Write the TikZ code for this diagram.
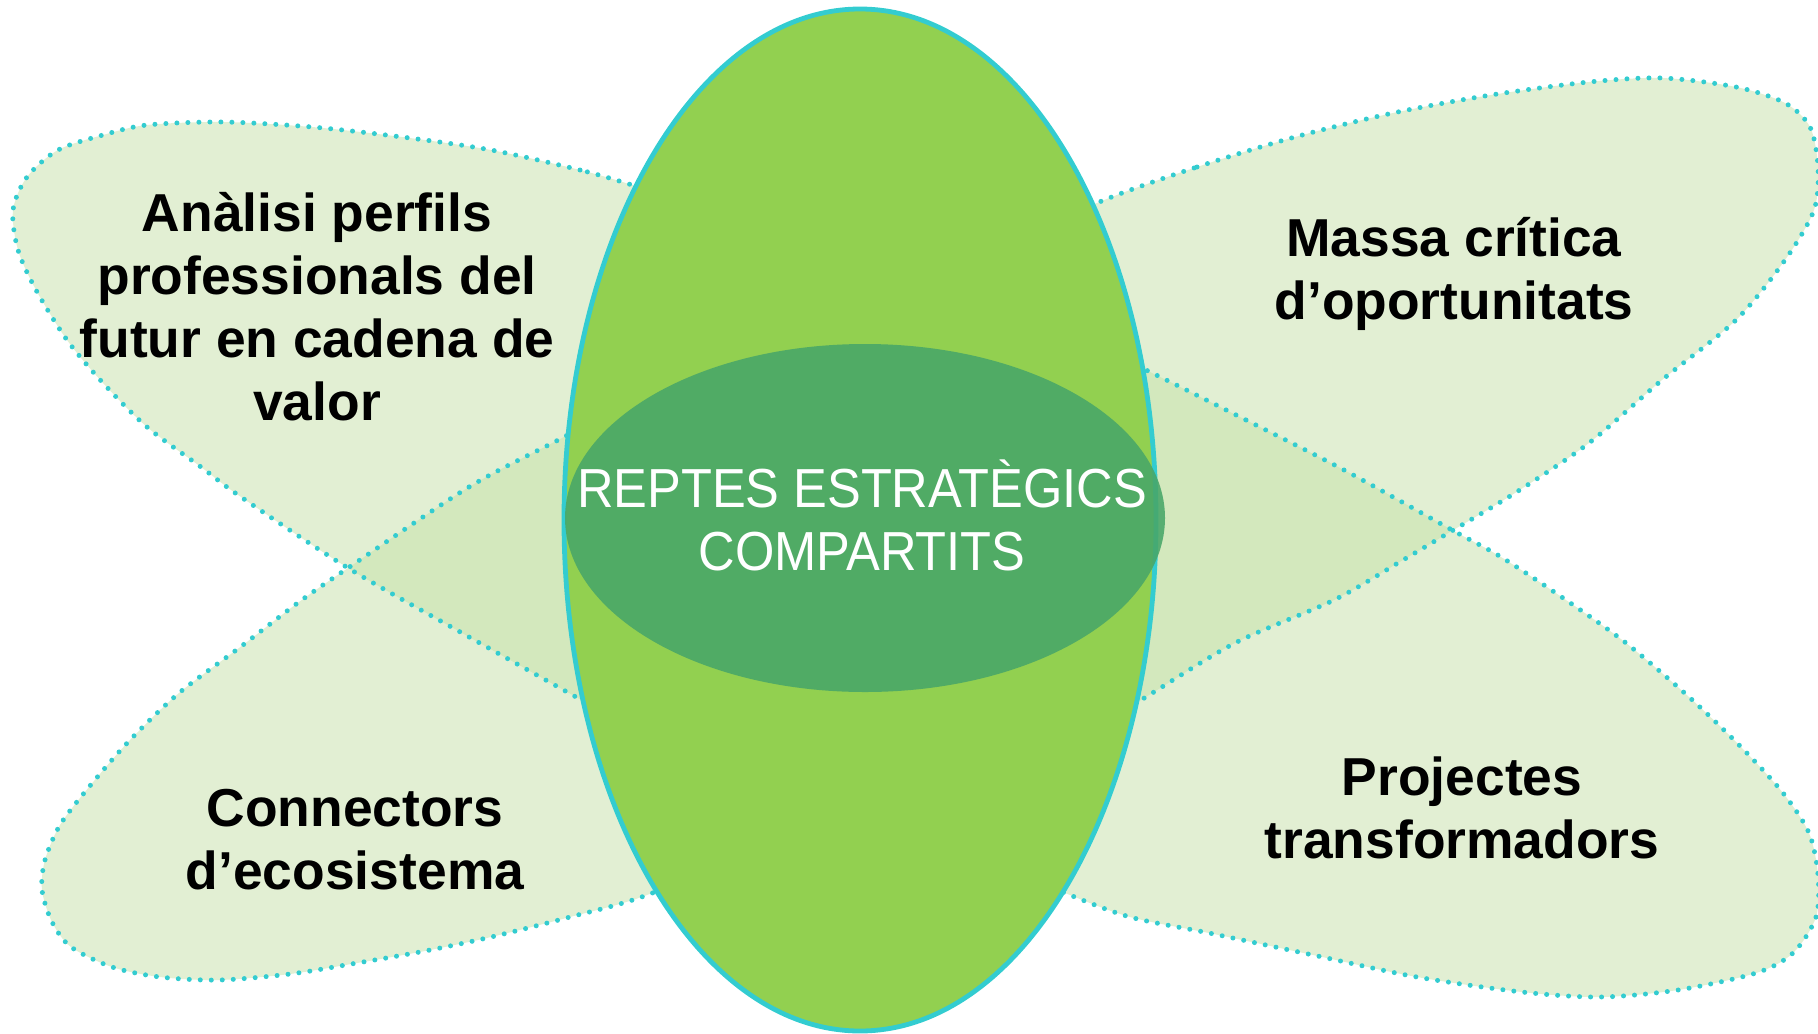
\documentclass[tikz,border=0pt]{standalone}
\usepackage{fontspec}
\setmainfont{Liberation Sans}
\newfontfamily\coresans{Liberation Sans}[FakeStretch=0.92]
\usepackage{xcolor}
\definecolor{tealline}{RGB}{51,204,208}
\definecolor{leafgreen}{RGB}{146,208,80}
\definecolor{coregreen}{RGB}{72,166,104}
\definecolor{petalgreen}{RGB}{197,224,168}

\begin{document}
\begin{tikzpicture}[x=0.5pt,y=-0.5pt,
  petalfill/.style={fill=petalgreen, fill opacity=0.5},
  petaledge/.style={draw=tealline, line width=2.5pt, line cap=round, dash pattern=on 0pt off 5.5pt},
  petaltext/.style={align=center, anchor=base, font=\fontsize{26.7}{31.5}\selectfont\bfseries},
  coretext/.style={align=center, anchor=base, text=white, font=\coresans\fontsize{27.5}{31.5}\selectfont}]
\useasboundingbox (0,0) rectangle (1818,1033);

% four petals, tips hidden behind the oval
\path[petalfill, save path=\leafTL] plot[smooth cycle] coordinates {
  (632,185) (580,170) (491,150) (402,137) (312,127) (223,122) (147,125) (103,135)
  (58,150) (27,177) (13,210) (18,250) (36,290) (67,340) (103,383) (147,427) (201,467)
  (241,497) (348,568) (462,633) (576,697) (690,761) (775,790) (790,560) (750,320) (690,205)};
\path[petalfill, save path=\leafLL] plot[smooth cycle] coordinates {
  (562,438) (469,487) (348,568) (299,602) (239,648) (179,693) (130,740) (89,787)
  (60,825) (45,860) (42,890) (52,922) (71,947) (112,967) (160,977) (219,980) (290,974)
  (357,963) (425,951) (491,937) (570,917) (647,895) (760,845) (880,720) (940,520)
  (900,370) (760,340) (660,385)};
\path[petalfill, save path=\leafTR] plot[smooth cycle] coordinates {
  (1097,203) (1197,167) (1295,137) (1393,113) (1491,95) (1589,82) (1662,78) (1736,87)
  (1785,103) (1810,127) (1818,167) (1814,210) (1785,260) (1736,320) (1662,380)
  (1589,443) (1515,493) (1450,532) (1403,560) (1334,600) (1235,643) (1141,700)
  (1050,755) (960,785) (925,650) (960,420) (1005,250)};
\path[petalfill, save path=\leafBR] plot[smooth cycle] coordinates {
  (1146,370) (1246,420) (1344,470) (1452,530) (1501,557) (1566,600) (1626,643)
  (1689,697) (1741,747) (1783,793) (1809,833) (1818,875) (1816,917) (1793,953)
  (1756,973) (1678,990) (1600,997) (1522,992) (1417,977) (1313,955) (1209,933)
  (1130,917) (1065,893) (990,860) (920,720) (900,500) (940,320) (1050,325)};
\path[petaledge, use path=\leafTL];
\path[petaledge, use path=\leafLL];
\path[petaledge, use path=\leafTR];
\path[petaledge, use path=\leafBR];

% central ovals
\draw[draw=tealline, line width=2.4pt, fill=leafgreen] (860,520) ellipse [x radius=296, y radius=511];
\fill[coregreen, fill opacity=0.88] (865,518) ellipse [x radius=300, y radius=174];

% anchor=base sits on the last line
\node[petaltext] (analisi) at (317,420) {Anàlisi perfils\\professionals del\\futur en cadena de\\valor};
\node[petaltext] (massa) at (1454,319) {Massa crítica\\d’oportunitats};
\node[petaltext] (connectors) at (355,889) {Connectors\\d’ecosistema};
\node[petaltext] (projectes) at (1462,858) {Projectes\\transformadors};
\node[coretext] (reptes) at (862,570) {REPTES ESTRATÈGICS\\COMPARTITS};
\end{tikzpicture}
\end{document}
